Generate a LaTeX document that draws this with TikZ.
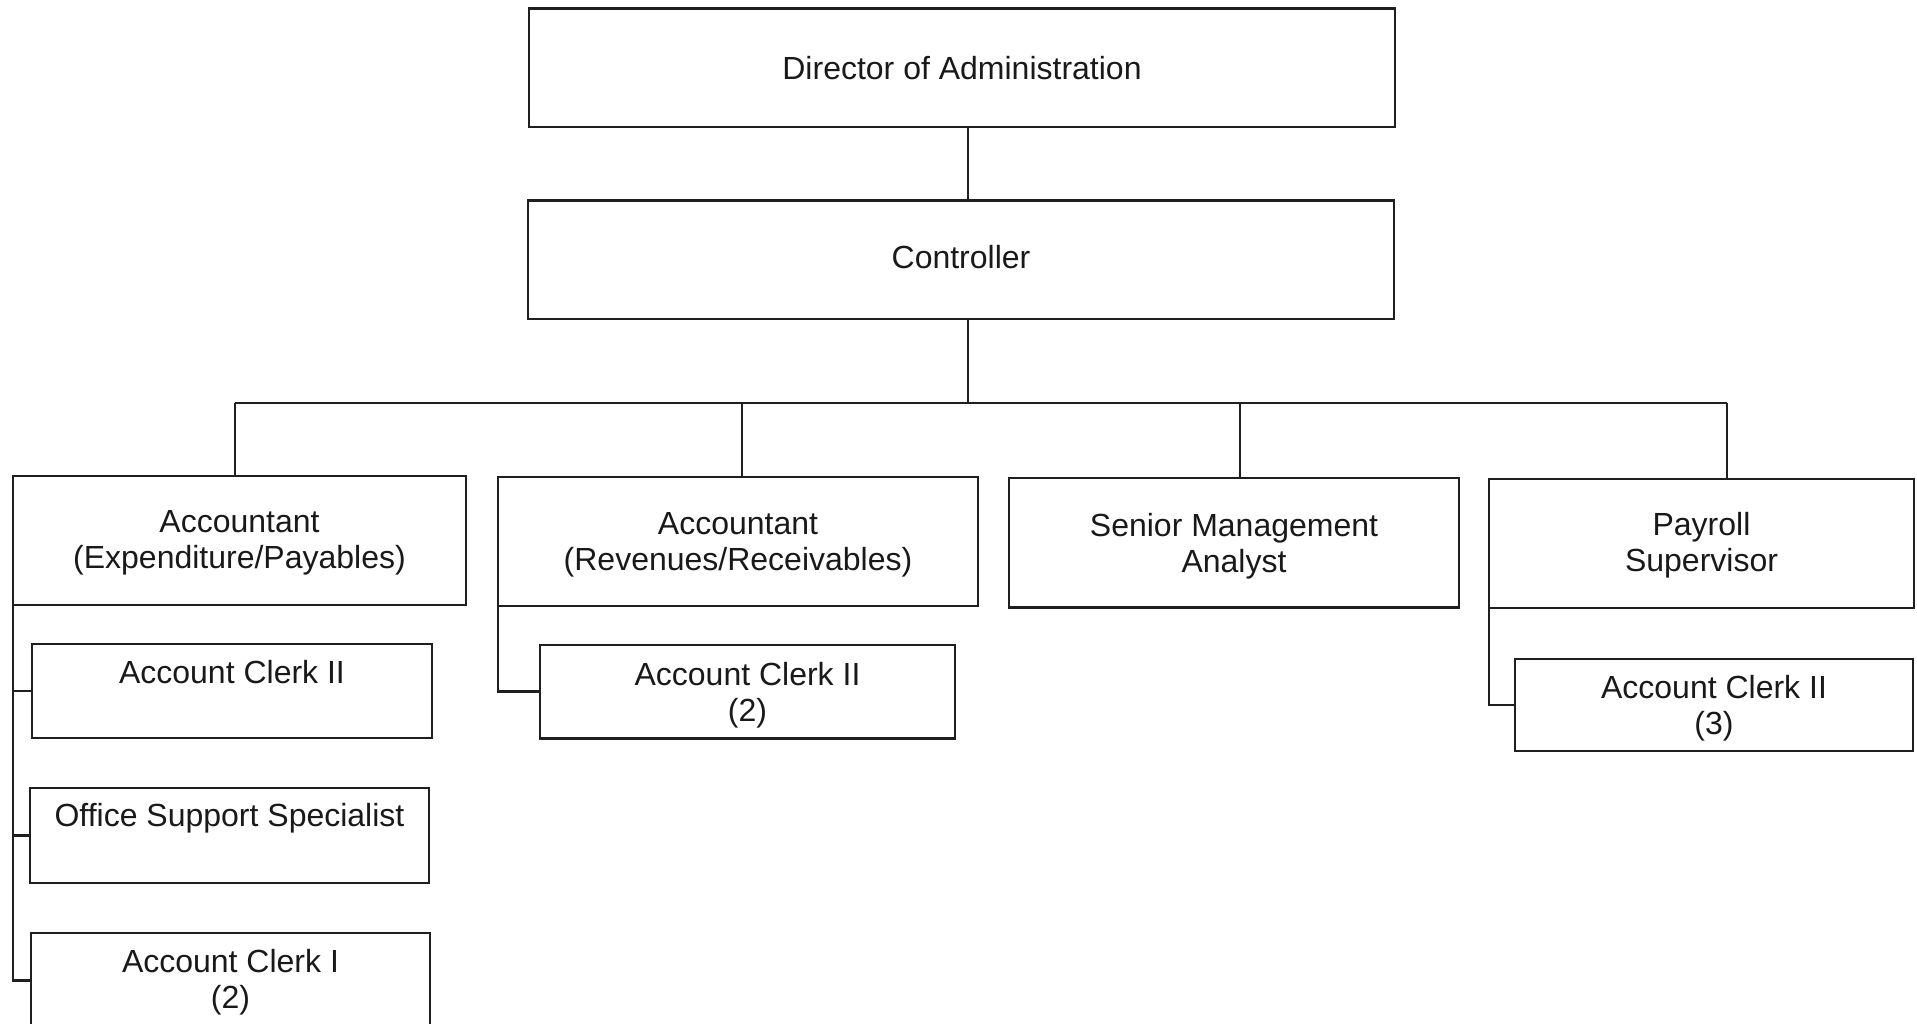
\documentclass[tikz,border=0pt]{standalone}
\usepackage{fontspec}
\setmainfont{Liberation Sans}
\begin{document}
\begin{tikzpicture}[x=1pt,y=-1pt,
  box/.style={draw=black!88, line width=2.6pt, inner sep=0pt, outer sep=0pt},
  lbl/.style={anchor=north, align=center, inner sep=0pt, text=black!90,
              font=\fontsize{32}{36}\selectfont},
  conn/.style={draw=black!88, line width=2.6pt}]
\useasboundingbox (0,0) rectangle (1917,1024);
\clip (0,0) rectangle (1917,1024);
% boxes
\node[box, minimum width=866pt, minimum height=118.4pt] (dir) at (962,67.8) {};
\node[box, minimum width=866pt, minimum height=118.5pt] (ctl) at (961,259.75) {};
\node[box, minimum width=453pt, minimum height=129pt] (a1) at (239.5,540.5) {};
\node[box, minimum width=480pt, minimum height=129pt] (a2) at (738,541.5) {};
\node[box, minimum width=450pt, minimum height=129.5pt] (sma) at (1234,542.75) {};
\node[box, minimum width=425pt, minimum height=129pt] (pay) at (1701.5,543.5) {};
\node[box, minimum width=400pt, minimum height=94pt] (c1) at (232,691) {};
\node[box, minimum width=399pt, minimum height=95pt] (oss) at (229.5,835.5) {};
\node[box, minimum width=399pt, minimum height=95pt] (ci) at (230.5,980.5) {};
\node[box, minimum width=415pt, minimum height=93.5pt] (c2) at (747.5,691.75) {};
\node[box, minimum width=398pt, minimum height=92pt] (c3) at (1714,705) {};
% labels
\node[lbl] (tdir) at (962,56) {Director of Administration};
\node[lbl] (tctl) at (961,245) {Controller};
\node[lbl] (ta1) at (239.5,510) {Accountant\\(Expenditure/Payables)};
\node[lbl] (ta2) at (738,512) {Accountant\\(Revenues/Receivables)};
\node[lbl] (tsma) at (1234,513) {Senior Management\\Analyst};
\node[lbl] (tpay) at (1701.5,512.5) {Payroll\\Supervisor};
\node[lbl] (tc1) at (232,660) {Account Clerk II};
\node[lbl] (toss) at (229.5,803.5) {Office Support Specialist};
\node[lbl] (tci) at (230.5,949) {Account Clerk I\\(2)};
\node[lbl] (tc2) at (747.5,662) {Account Clerk II\\(2)};
\node[lbl] (tc3) at (1714,675) {Account Clerk II\\(3)};
% connectors
\coordinate (j) at (968,403);
\coordinate (b1) at (235,403);
\coordinate (b2) at (742,403);
\coordinate (b3) at (1240,403);
\coordinate (b4) at (1727,403);
\draw[conn] (dir.south -| j) -- (ctl.north -| j);
\draw[conn] (ctl.south -| j) -- (j);
\draw[conn] (b1) -- (b4);
\draw[conn] (b1) -- (b1 |- a1.north);
\draw[conn] (b2) -- (b2 |- a2.north);
\draw[conn] (b3) -- (b3 |- sma.north);
\draw[conn] (b4) -- (b4 |- pay.north);
\draw[conn] (a1.south west) |- (c1.west);
\draw[conn] (a1.south west) |- (oss.west);
\draw[conn] (a1.south west) |- (ci.west);
\draw[conn] (a2.south west) |- (c2.west);
\draw[conn] (pay.south west) |- (c3.west);
\end{tikzpicture}
\end{document}
